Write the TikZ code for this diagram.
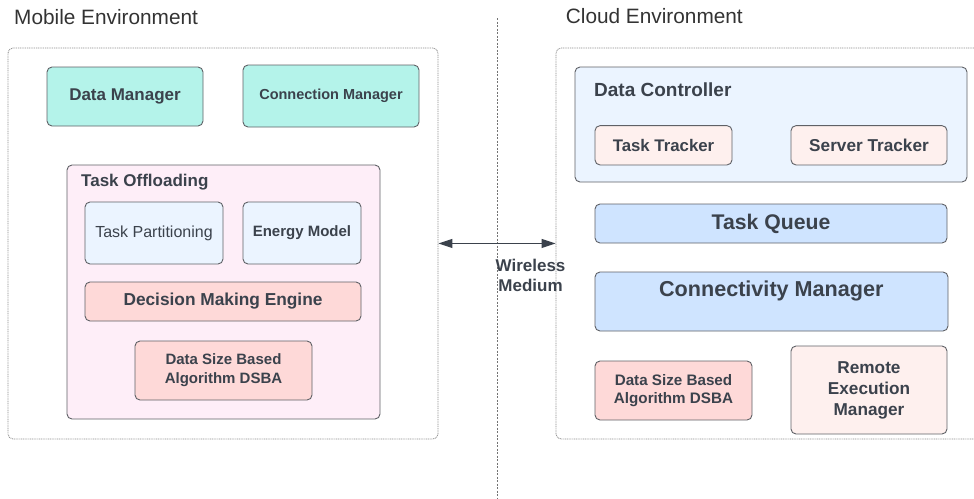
\documentclass[tikz,border=0pt]{standalone}
\usepackage{fontspec}
\setmainfont{Liberation Sans}
\usetikzlibrary{arrows.meta}
\definecolor{ink}{HTML}{3B424C}
\definecolor{edge}{HTML}{5F6166}
\definecolor{frame}{HTML}{8C8C8C}
\definecolor{teal}{HTML}{B4F3EA}
\definecolor{pinkbg}{HTML}{FEEEF8}
\definecolor{paleblue}{HTML}{EBF4FF}
\definecolor{rose}{HTML}{FED9D8}
\definecolor{blush}{HTML}{FEF0EE}
\definecolor{skyblue}{HTML}{CFE4FF}
\newcommand{\fs}[2]{\fontsize{#1}{#2}\selectfont}
\tikzset{
  envframe/.style={draw=frame, line width=0.8pt, dash pattern=on 1pt off 0.8pt,
    rounded corners=5pt, inner sep=0pt},
  comp/.style={draw=edge, line width=0.9pt, rounded corners=5pt, inner sep=0pt,
    text=ink, font=\bfseries, align=center},
  envtitle/.style={anchor=west, inner sep=0pt, text=black!80, font=\fs{20.8}{24}},
  grouptitle/.style={anchor=west, inner sep=0pt, text=ink, font=\bfseries},
  biarrow/.style={draw=ink, line width=1.2pt,
    {Triangle[length=14pt,width=9pt]}-{Triangle[length=14pt,width=9pt]}},
  divider/.style={draw=black!55, line width=0.7pt, dash pattern=on 2pt off 1.5pt}
}
\begin{document}
\begin{tikzpicture}[x=1pt,y=-1pt]
\useasboundingbox (0,0) rectangle (974,498);
\clip (0,0) rectangle (974,498);

% environment frames and the divider between them
\node[envframe, minimum width=430pt, minimum height=391pt] (mob) at (223,243.5) {};
\node[envframe, minimum width=434pt, minimum height=391pt] (cloud) at (773,243.5) {};
\coordinate (divtop) at (497.7,18);
\coordinate (divbot) at (497.7,498);
\draw[divider] (divtop) -- (divbot);

\node[envtitle] (mobt) at (14,17) {Mobile Environment};
\node[envtitle] (cloudt) at (565.7,16) {Cloud Environment};

% mobile side
\node[comp, fill=teal, minimum width=156pt, minimum height=59pt, font=\bfseries\fs{17}{20}]
  (dm) at (125,96.5) {Data Manager};
\node[comp, fill=teal, minimum width=176pt, minimum height=62pt, font=\bfseries\fs{14.5}{17}]
  (cm) at (331,96) {\raisebox{2pt}{Connection Manager}};

\node[comp, fill=pinkbg, minimum width=313pt, minimum height=254pt] (to) at (223.5,292) {};
\node[grouptitle, font=\bfseries\fs{17}{20}] (tot) at (81,182) {Task Offloading};
\node[comp, fill=paleblue, minimum width=138pt, minimum height=62pt, font=\fs{16}{19}]
  (tp) at (154,233) {Task Partitioning};
\node[comp, fill=paleblue, minimum width=118pt, minimum height=62pt, font=\bfseries\fs{15}{18}]
  (em) at (302,233) {Energy Model};
\node[comp, fill=rose, minimum width=276pt, minimum height=39pt, font=\bfseries\fs{17.3}{20}]
  (dme) at (223,301.5) {Decision Making Engine};
\node[comp, fill=rose, minimum width=177pt, minimum height=59pt, font=\bfseries\fs{15}{19}]
  (dsl) at (223.5,370.5) {Data Size Based\\Algorithm DSBA};

% cloud side
\node[comp, fill=paleblue, minimum width=392pt, minimum height=115pt] (dc) at (771,124.5) {};
\node[grouptitle, font=\bfseries\fs{19}{22}] (dct) at (594,90) {Data Controller};
\node[comp, fill=blush, minimum width=137pt, minimum height=39.3pt, font=\bfseries\fs{16.8}{19}]
  (tt) at (663.5,145.3) {Task Tracker};
\node[comp, fill=blush, minimum width=156pt, minimum height=39.3pt, font=\bfseries\fs{17.2}{20}]
  (st) at (869,145.3) {Server Tracker};
\node[comp, fill=skyblue, minimum width=352pt, minimum height=39pt, font=\bfseries\fs{21.2}{24}]
  (tq) at (771,223.5) {Task Queue};
\node[comp, fill=skyblue, minimum width=353pt, minimum height=59pt] (cvm) at (771.5,301.5) {};
\node[text=ink, inner sep=0pt, font=\bfseries\fs{21.6}{25}] (cvmt) at (771.3,291) {Connectivity Manager};
\node[comp, fill=rose, minimum width=157pt, minimum height=59pt, font=\bfseries\fs{15.2}{18}]
  (rdsb) at (673.5,390.5) {Data Size Based\\Algorithm DSBA};
\node[comp, fill=blush, minimum width=156pt, minimum height=88pt, font=\bfseries\fs{17.2}{21}]
  (rem) at (869,390) {Remote\\Execution\\Manager};

% wireless link between the two environments
\draw[biarrow] (mob.east |- tq.south) -- (cloud.west |- tq.south);
\node[text=ink, inner sep=0pt, align=center, font=\bfseries\fs{17}{20}] (wm) at (530.5,275)
  {Wireless\\Medium};
\end{tikzpicture}
\end{document}
